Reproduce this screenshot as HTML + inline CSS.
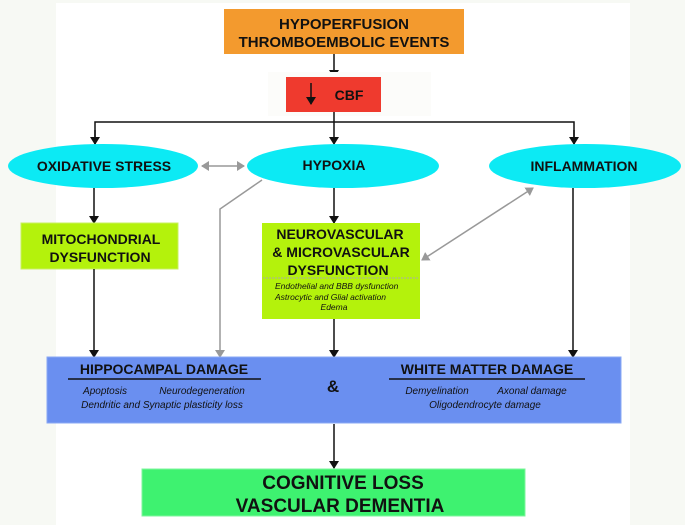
<!DOCTYPE html>
<html><head><meta charset="utf-8"><style>
html,body{margin:0;padding:0;background:#f7f9f4}
svg{display:block}
text{font-family:"Liberation Sans",Arial,sans-serif}
.b{font-weight:bold;fill:#111}
.i{font-style:italic;fill:#111}
</style></head><body>
<svg width="685" height="525" viewBox="0 0 685 525" xmlns="http://www.w3.org/2000/svg">
<defs>
<marker id="ak" markerWidth="8" markerHeight="10" refX="7" refY="5" orient="auto" markerUnits="userSpaceOnUse"><path d="M0,0 L8,5 L0,10 z" fill="#111"/></marker>
<marker id="ag" markerWidth="8" markerHeight="10" refX="7" refY="5" orient="auto" markerUnits="userSpaceOnUse"><path d="M0,0 L8,5 L0,10 z" fill="#999"/></marker>
<marker id="agr" markerWidth="8" markerHeight="10" refX="1" refY="5" orient="auto" markerUnits="userSpaceOnUse"><path d="M8,0 L0,5 L8,10 z" fill="#999"/></marker>
</defs>
<rect x="56" y="3" width="574" height="522" fill="#ffffff"/>
<!-- orange -->
<rect x="224" y="9" width="240" height="45" fill="#f39a2e"/>
<text class="b" x="344" y="29" font-size="15" text-anchor="middle">HYPOPERFUSION</text>
<text class="b" x="344" y="47" font-size="15" text-anchor="middle">THROMBOEMBOLIC EVENTS</text>
<line x1="334" y1="54" x2="334" y2="77" stroke="#111" stroke-width="1.5" marker-end="url(#ak)"/>
<!-- CBF -->
<rect x="268" y="72" width="163" height="44" fill="#fcfcfa"/>
<rect x="286" y="77" width="95" height="35" fill="#ef3a2e"/>
<line x1="311" y1="83" x2="311" y2="104" stroke="#111" stroke-width="1.5" marker-end="url(#ak)"/>
<text class="b" x="349" y="100" font-size="14" text-anchor="middle">CBF</text>
<!-- distribution -->
<line x1="334" y1="112" x2="334" y2="144" stroke="#111" stroke-width="1.5" marker-end="url(#ak)"/>
<polyline points="95,144 95,122 574,122 574,144" fill="none" stroke="#111" stroke-width="1.5"/>
<line x1="95" y1="130" x2="95" y2="144" stroke="#111" stroke-width="1.5" marker-end="url(#ak)"/>
<line x1="574" y1="130" x2="574" y2="144" stroke="#111" stroke-width="1.5" marker-end="url(#ak)"/>
<!-- ellipses -->
<ellipse cx="103" cy="166" rx="95" ry="22" fill="#0ceaf4"/>
<ellipse cx="343" cy="166" rx="96" ry="22" fill="#0ceaf4"/>
<ellipse cx="585" cy="166" rx="96" ry="22" fill="#0ceaf4"/>
<text class="b" x="104" y="171" font-size="14" text-anchor="middle">OXIDATIVE STRESS</text>
<text class="b" x="334" y="170" font-size="14" text-anchor="middle">HYPOXIA</text>
<text class="b" x="584" y="171" font-size="14" text-anchor="middle">INFLAMMATION</text>
<line x1="202" y1="166" x2="244" y2="166" stroke="#999" stroke-width="1.5" marker-start="url(#agr)" marker-end="url(#ag)"/>
<!-- gray line from hypoxia -->
<polyline points="262,180 220,209 220,357" fill="none" stroke="#999" stroke-width="1.5" marker-end="url(#ag)"/>
<!-- gray double from inflammation to NV -->
<line x1="533" y1="188" x2="422" y2="260" stroke="#999" stroke-width="1.5" marker-start="url(#agr)" marker-end="url(#ag)"/>
<!-- mito -->
<line x1="94" y1="188" x2="94" y2="223" stroke="#111" stroke-width="1.5" marker-end="url(#ak)"/>
<rect x="21" y="223" width="157" height="46" fill="#b4f20c" stroke="#c8f060" stroke-width="1"/>
<text class="b" x="101" y="244" font-size="14" text-anchor="middle">MITOCHONDRIAL</text>
<text class="b" x="100" y="262" font-size="14" text-anchor="middle">DYSFUNCTION</text>
<line x1="94" y1="269" x2="94" y2="357" stroke="#111" stroke-width="1.5" marker-end="url(#ak)"/>
<!-- NV -->
<line x1="334" y1="188" x2="334" y2="223" stroke="#111" stroke-width="1.5" marker-end="url(#ak)"/>
<rect x="262" y="223" width="158" height="96" fill="#b4f20c"/>
<text class="b" x="340" y="239" font-size="14" text-anchor="middle">NEUROVASCULAR</text>
<text class="b" x="341" y="257" font-size="14" text-anchor="middle">&amp; MICROVASCULAR</text>
<text class="b" x="338" y="275" font-size="14" text-anchor="middle">DYSFUNCTION</text>
<line x1="263" y1="278" x2="419" y2="278" stroke="#aaa" stroke-width="1" stroke-dasharray="2,1"/>
<text class="i" x="275" y="289" font-size="8.5">Endothelial and BBB dysfunction</text>
<text class="i" x="275" y="300" font-size="8.5">Astrocytic and Glial activation</text>
<text class="i" x="334" y="310" font-size="8.5" text-anchor="middle">Edema</text>
<line x1="334" y1="319" x2="334" y2="357" stroke="#111" stroke-width="1.5" marker-end="url(#ak)"/>
<line x1="573" y1="188" x2="573" y2="357" stroke="#111" stroke-width="1.5" marker-end="url(#ak)"/>
<!-- blue -->
<rect x="47" y="357" width="574" height="66" fill="#6a8ff0" stroke="#8aa8f4" stroke-width="1"/>
<text class="b" x="164" y="374" font-size="14" text-anchor="middle">HIPPOCAMPAL DAMAGE</text>
<line x1="68" y1="379" x2="261" y2="379" stroke="#111" stroke-width="1.5"/>
<text class="i" x="105" y="394" font-size="10" text-anchor="middle">Apoptosis</text>
<text class="i" x="202" y="394" font-size="10" text-anchor="middle">Neurodegeneration</text>
<text class="i" x="162" y="408" font-size="10" text-anchor="middle">Dendritic and Synaptic plasticity loss</text>
<text class="b" x="333" y="392" font-size="17" text-anchor="middle">&amp;</text>
<text class="b" x="487" y="374" font-size="14" text-anchor="middle">WHITE MATTER DAMAGE</text>
<line x1="389" y1="379" x2="585" y2="379" stroke="#111" stroke-width="1.5"/>
<text class="i" x="437" y="394" font-size="10" text-anchor="middle">Demyelination</text>
<text class="i" x="532" y="394" font-size="10" text-anchor="middle">Axonal damage</text>
<text class="i" x="485" y="408" font-size="10" text-anchor="middle">Oligodendrocyte damage</text>
<line x1="334" y1="424" x2="334" y2="468" stroke="#111" stroke-width="1.5" marker-end="url(#ak)"/>
<!-- green -->
<rect x="142" y="469" width="383" height="47" fill="#3ef270" stroke="#7ef59c" stroke-width="1"/>
<text class="b" x="343" y="489" font-size="19" text-anchor="middle">COGNITIVE LOSS</text>
<text class="b" x="340" y="512" font-size="19" text-anchor="middle">VASCULAR DEMENTIA</text>
</svg>
</body></html>
